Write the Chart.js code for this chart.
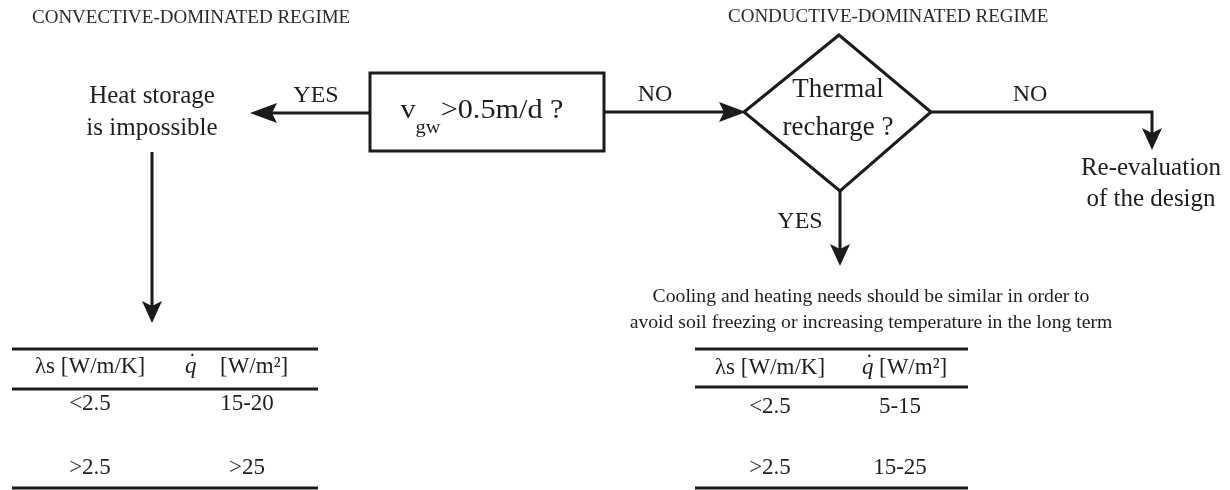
<!DOCTYPE html>
<html><head><meta charset="utf-8">
<script src="https://cdn.jsdelivr.net/npm/chart.js@4.4.1/dist/chart.umd.min.js"></script>
<style>html,body{margin:0;padding:0;background:#fff}#wrap{width:1230px;height:490px;position:relative}</style>
</head><body><div id="wrap"><canvas id="c"></canvas></div>
<script>
// ---- content (data) ----
const regimeTitles = ['CONVECTIVE-DOMINATED REGIME', 'CONDUCTIVE-DOMINATED REGIME'];
const velocityQuestion = ['v', 'gw', '>0.5m/d ?'];
const rechargeQuestion = ['Thermal', 'recharge ?'];
const branchLabels = ['YES', 'NO', 'NO', 'YES'];
const convectiveOutcome = ['Heat storage', 'is impossible'];
const redesignOutcome = ['Re-evaluation', 'of the design'];
const conductiveAdvice = ['Cooling and heating needs should be similar in order to',
                          'avoid soil freezing or increasing temperature in the long term'];
const tableHeaders = ['\u03BBs [W/m/K]', 'q', '[W/m\u00B2]'];
const conductivityClasses = ['<2.5', '>2.5'];
const convectiveHeatFlux = ['15-20', '>25'];
const conductiveHeatFlux = ['5-15', '15-25'];

// ---- layout (scale units: x 0..1230, y 0..490 top-down) ----
const layout = {
  titles: [[32, 18], [728, 17]],
  box: {x0: 370, y0: 73, x1: 604, y1: 151},
  boxText: {cx: 482, y: 110.5, subY: 128},
  diamond: [[744, 112], [839, 35], [931, 112], [840, 191]],
  diamondText: [838, 90, 128],
  connectors: [
    [[370, 113], [250, 113]],
    [[604, 112], [746, 112]],
    [[931, 112], [1152, 112], [1152, 150]],
    [[840, 191], [840, 266]],
    [[152, 152], [152, 323]]
  ],
  branchPos: [[316, 96], [655, 95], [1030, 95], [800, 222]],
  convectiveOutcome: [152, 96, 128],
  redesignOutcome: [1151, 168, 199],
  advice: [871, 297, 323],
  tables: [
    {x0: 12, x1: 318, rules: [349, 389, 488], cols: [90, 247], qx: 185, unitX: 220, header: 367, rows: [404, 468]},
    {x0: 695, x1: 968, rules: [349, 387, 488], cols: [770, 900], qx: 862, unitX: 879, header: 368, rows: [407, 468]}
  ]
};
const INK = '#1b1b1b';

function seg(points, width) {
  return {data: points.map(p => ({x: p[0], y: p[1]})), showLine: true, borderColor: INK,
          borderWidth: width, pointRadius: 0, fill: false, tension: 0,
          borderJoinStyle: 'miter', borderCapStyle: 'butt'};
}
const datasets = [];
const b = layout.box;
datasets.push(seg([[b.x0, b.y0], [b.x1, b.y0], [b.x1, b.y1], [b.x0, b.y1], [b.x0, b.y0], [b.x1, b.y0]], 3));
const d = layout.diamond;
datasets.push(seg([...d, d[0], d[1]], 3));
layout.connectors.forEach(c => {
  const pts = c.map(p => p.slice());
  const n = pts.length, a = pts[n - 2], t = pts[n - 1];
  const dx = t[0] - a[0], dy = t[1] - a[1], len = Math.hypot(dx, dy);
  pts[n - 1] = [t[0] - dx / len * 10, t[1] - dy / len * 10];
  datasets.push(seg(pts, 3));
});
layout.tables.forEach(tb => tb.rules.forEach(r => datasets.push(seg([[tb.x0, r], [tb.x1, r]], 3))));

const FONT = '"Liberation Serif", "Times New Roman", serif';
const overlay = {
  id: 'overlay',
  afterDatasetsDraw(chart) {
    const ctx = chart.ctx, X = chart.scales.x, Y = chart.scales.y;
    const px = v => X.getPixelForValue(v), py = v => Y.getPixelForValue(v);
    // arrowheads
    ctx.save();
    ctx.fillStyle = INK;
    layout.connectors.forEach(c => {
      const n = c.length, a = c[n - 2], t = c[n - 1];
      const tx = px(t[0]), ty = py(t[1]);
      const dx = tx - px(a[0]), dy = ty - py(a[1]), len = Math.hypot(dx, dy);
      const ux = dx / len, uy = dy / len, nx = -uy, ny = ux;
      const horiz = Math.abs(ux) > 0.5;
      const L = horiz ? 27 : 22, W = 10, notch = 5;
      ctx.beginPath();
      ctx.moveTo(tx, ty);
      ctx.lineTo(tx - ux * L + nx * W, ty - uy * L + ny * W);
      ctx.lineTo(tx - ux * (L - notch), ty - uy * (L - notch));
      ctx.lineTo(tx - ux * L - nx * W, ty - uy * L - ny * W);
      ctx.closePath();
      ctx.fill();
    });
    ctx.restore();

    const T = (s, x, y, size, opts = {}) => {
      ctx.save();
      ctx.fillStyle = opts.color || '#1e1e1e';
      ctx.font = (opts.style || '') + ' ' + size + 'px ' + FONT;
      ctx.textAlign = opts.align || 'center';
      ctx.textBaseline = 'middle';
      ctx.translate(px(x), py(y));
      ctx.scale(opts.sx || 1, 1);
      ctx.fillText(s, 0, 0);
      ctx.restore();
    };
    const measure = (s, size, style) => {
      ctx.save(); ctx.font = (style || '') + ' ' + size + 'px ' + FONT;
      const w = ctx.measureText(s).width; ctx.restore(); return w;
    };
    // titles
    regimeTitles.forEach((s, i) => T(s, layout.titles[i][0], layout.titles[i][1], 19, {align: 'left', color: '#2a2a2a'}));
    // branch labels
    branchLabels.forEach((s, i) => T(s, layout.branchPos[i][0], layout.branchPos[i][1], 24));
    // outcomes
    const co = layout.convectiveOutcome;
    T(convectiveOutcome[0], co[0], co[1], 25); T(convectiveOutcome[1], co[0], co[2], 25);
    const ro = layout.redesignOutcome;
    T(redesignOutcome[0], ro[0], ro[1], 25); T(redesignOutcome[1], ro[0], ro[2], 25);
    const ad = layout.advice;
    T(conductiveAdvice[0], ad[0], ad[1], 19.7); T(conductiveAdvice[1], ad[0], ad[2], 19.7);
    // diamond text
    const dt = layout.diamondText;
    T(rechargeQuestion[0], dt[0], dt[1], 27); T(rechargeQuestion[1], dt[0], dt[2], 27);
    // box text with subscript
    const bt = layout.boxText, SX = 1.08, MAIN = 28, SUB = 19;
    const w0 = measure(velocityQuestion[0], MAIN) * SX;
    const w1 = measure(velocityQuestion[1], SUB) * SX;
    const w2 = measure(velocityQuestion[2], MAIN) * SX;
    const bx = px(bt.cx) - (w0 + w1 + w2) / 2;
    T(velocityQuestion[0], X.getValueForPixel(bx), bt.y, MAIN, {align: 'left', sx: SX});
    T(velocityQuestion[1], X.getValueForPixel(bx + w0), bt.subY, SUB, {align: 'left', sx: SX});
    T(velocityQuestion[2], X.getValueForPixel(bx + w0 + w1), bt.y, MAIN, {align: 'left', sx: SX});
    // tables
    const fluxes = [convectiveHeatFlux, conductiveHeatFlux];
    layout.tables.forEach((tb, k) => {
      T(tableHeaders[0], tb.cols[0], tb.header, 23);
      const qw = measure(tableHeaders[1], 23, 'italic');
      T(tableHeaders[1], tb.qx, tb.header, 23, {align: 'left', style: 'italic'});
      T('\u02D9', X.getValueForPixel(px(tb.qx) + qw / 2 + 1.5), tb.header - 4, 23);
      T(tableHeaders[2], tb.unitX, tb.header, 23, {align: 'left'});
      conductivityClasses.forEach((s, r) => {
        T(s, tb.cols[0], tb.rows[r], 23);
        T(fluxes[k][r], tb.cols[1], tb.rows[r], 23);
      });
    });
  }
};

new Chart(document.getElementById('c'), {
  type: 'scatter',
  data: {datasets},
  options: {
    responsive: true, maintainAspectRatio: false, animation: false,
    layout: {padding: 0},
    plugins: {legend: {display: false}, tooltip: {enabled: false}},
    scales: {
      x: {type: 'linear', min: 0, max: 1230, display: false},
      y: {type: 'linear', min: 0, max: 490, reverse: true, display: false}
    }
  },
  plugins: [overlay]
});
</script></body></html>
